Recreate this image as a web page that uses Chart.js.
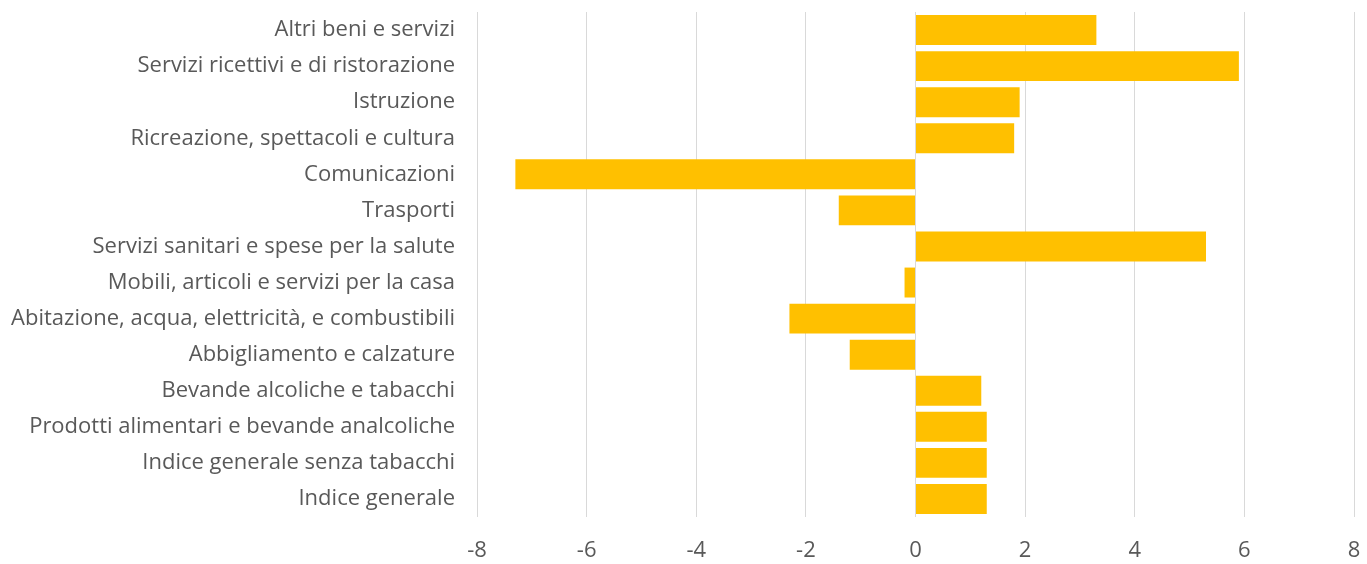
<!DOCTYPE html>
<html>
<head>
<meta charset="utf-8">
<script src="https://cdn.jsdelivr.net/npm/chart.js@4"></script>
<style>
  html, body { margin: 0; padding: 0; background: #fff; }
  #wrap { width: 1367px; height: 564px; }
</style>
</head>
<body>
<div id="wrap"><canvas id="chart"></canvas></div>
<script>
const categories = [
    'Altri beni e servizi',
    'Servizi ricettivi e di ristorazione',
    'Istruzione',
    'Ricreazione, spettacoli e cultura',
    'Comunicazioni',
    'Trasporti',
    'Servizi sanitari e spese per la salute',
    'Mobili, articoli e servizi per la casa',
    'Abitazione, acqua, elettricità, e combustibili',
    'Abbigliamento e calzature',
    'Bevande alcoliche e tabacchi',
    'Prodotti alimentari e bevande analcoliche',
    'Indice generale senza tabacchi',
    'Indice generale'
];
const values = [3.3, 5.9, 1.9, 1.8, -7.3, -1.4, 5.3, -0.2, -2.3, -1.2, 1.2, 1.3, 1.3, 1.3];
const xMin = -8, xMax = 8, xStep = 2;

const labelFont = { family: "'Open Sans', sans-serif", size: 22 };

new Chart(document.getElementById('chart'), {
    type: 'bar',
    data: {
        labels: categories,
        datasets: [{
            data: values,
            backgroundColor: '#FFC000',
            borderWidth: 0,
            barPercentage: 0.83,
            categoryPercentage: 1.0
        }]
    },
    options: {
        indexAxis: 'y',
        responsive: true,
        maintainAspectRatio: false,
        animation: false,
        layout: { padding: { left: 10, right: 13, top: 12, bottom: 0 } },
        plugins: { legend: { display: false }, tooltip: { enabled: false } },
        scales: {
            x: {
                min: xMin, max: xMax,
                ticks: { stepSize: xStep, color: '#595959', font: labelFont, padding: 21 },
                grid: { color: '#d9d9d9', lineWidth: 1, drawTicks: false },
                border: { display: false },
                afterFit: s => { s.height = 47; s.paddingLeft = 0; s.paddingRight = 0; }
            },
            y: {
                ticks: { color: '#595959', font: labelFont, padding: 14, autoSkip: false },
                grid: { display: false },
                border: { display: false },
                afterFit: s => { s.width = 467; s.paddingTop = 0; s.paddingBottom = 0; }
            }
        }
    }
});
</script>
</body>
</html>
